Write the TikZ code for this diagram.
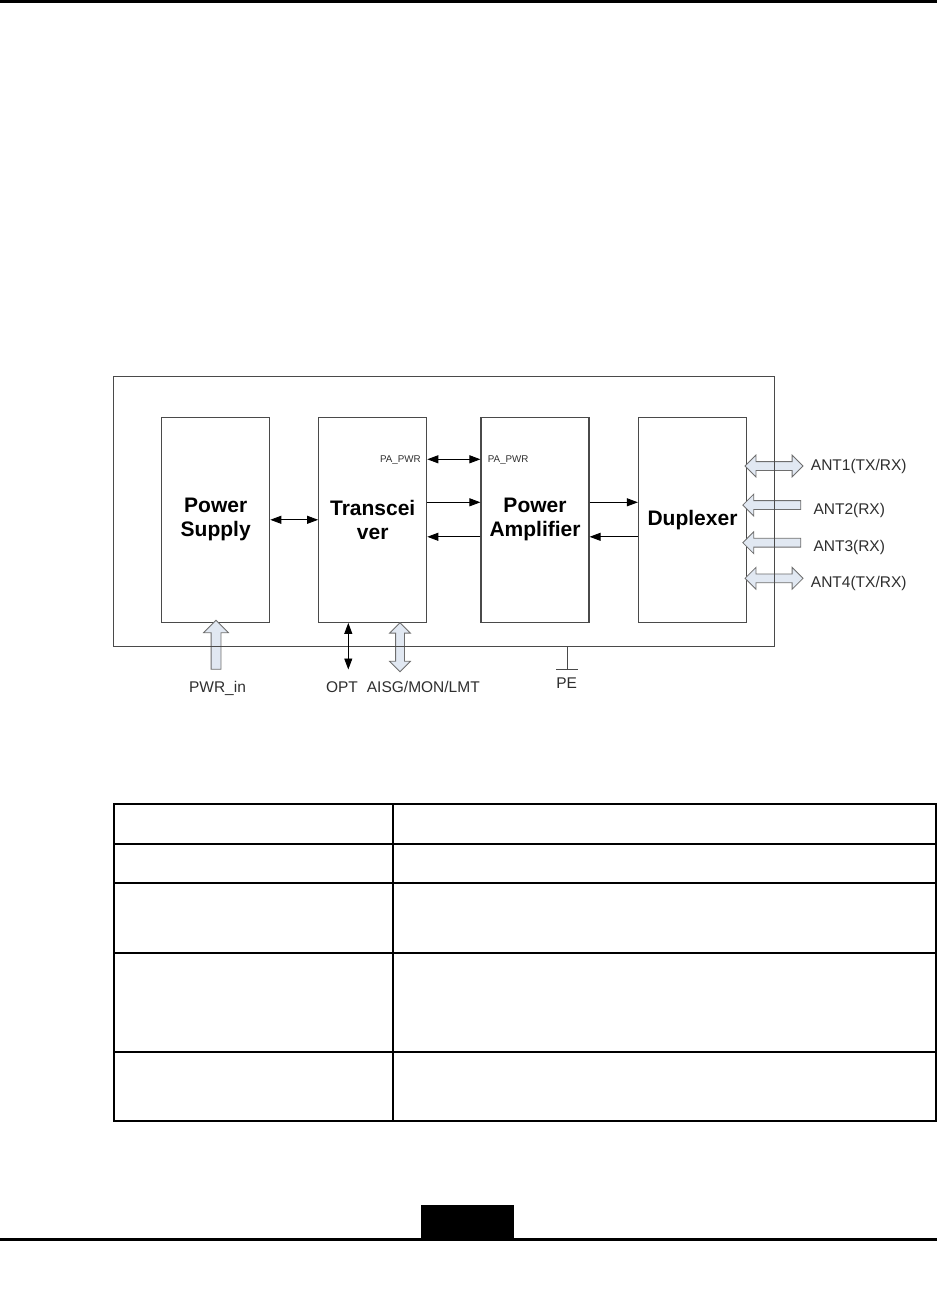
\documentclass[tikz,border=0pt]{standalone}
\usepackage{fontspec}
\setmainfont{Liberation Sans}
\usetikzlibrary{positioning,arrows.meta,calc,shapes.arrows}
\definecolor{rruline}{HTML}{4A4A4A}
\definecolor{rrutext}{HTML}{2E2E2E}
\definecolor{rrufill}{HTML}{E1E8F2}
\definecolor{rruedge}{HTML}{6E6E6E}

\begin{document}
\begin{tikzpicture}[x=1pt, y=-1pt,
  module/.style={draw=rruline, line width=1.2pt, minimum width=108, minimum height=205,
                 inner sep=0, align=center, font=\fontsize{21}{24}\selectfont\bfseries},
  arr/.style={-{Triangle[length=11pt,width=8pt]}, line width=0.9pt, draw=black},
  dbl/.style={{Triangle[length=11pt,width=8pt]}-{Triangle[length=11pt,width=8pt]},
              line width=0.9pt, draw=black},
  blk/.style={single arrow, draw=rruedge, fill=rrufill, line width=0.8pt,
              inner xsep=0, inner ysep=4pt, single arrow head extend=6.5pt, minimum height=58},
  dblk/.style={double arrow, draw=rruedge, fill=rrufill, line width=0.8pt,
               inner xsep=0, inner ysep=4pt, double arrow head extend=6.5pt, minimum height=58},
  lbl/.style={font=\fontsize{15.5}{18}\selectfont, text=rrutext, inner sep=0},
  pin/.style={font=\fontsize{9.8}{11}\selectfont, text=rrutext, inner sep=0},
  rule/.style={fill=black, draw=none},
  tbl/.style={draw=black, line width=2pt},
]
  \useasboundingbox (0,0) rectangle (937,1289);

  % page rules
  \fill[rule] (0,0) rectangle (937,3);
  \fill[rule] (0,1238) rectangle (937,1241);
  \fill[rule] (421,1205) rectangle (514,1238);

  % modules
  \node[module] (ps)  at (215.7,519.8) {Power\\Supply};
  \node[module] (tr)  at (372.7,519.8) {Transcei\\ver};
  \node[module] (pa)  at (535,519.8)   {Power\\Amplifier};
  \node[module] (dup) at (692.5,519.8) {Duplexer};

  % block arrows
  \node[dblk] (ant1) at (774,466) {};
  \node[blk, shape border rotate=180] (ant2) at (774,505) {};
  \node[blk, shape border rotate=180] (ant3) at (774,542.7) {};
  \node[dblk] (ant4) at (774,578.3) {};
  \node[blk, inner xsep=4.5pt, inner ysep=0, single arrow head extend=7.5pt,
        minimum height=49, shape border rotate=90] (pwr) at (216,647.2) {};
  \node[dblk, inner xsep=4pt, inner ysep=0, double arrow head extend=6pt,
        minimum height=49, shape border rotate=90] (aisg) at (400,647.2) {};

  % unit frame
  \node[draw=rruline, line width=1.2pt, minimum width=661, minimum height=270,
        inner sep=0] (unit) at (443.7,511.7) {};

  % signal lines
  \draw[dbl] (ps) -- (tr);
  \draw[dbl] ([yshift=60.5pt]tr.east) -- ([yshift=60.5pt]pa.west);
  \draw[arr] ([yshift=17.5pt]tr.east) -- ([yshift=17.5pt]pa.west);
  \draw[arr] ([yshift=-17pt]pa.west) -- ([yshift=-17pt]tr.east);
  \draw[arr] ([yshift=17.5pt]pa.east) -- ([yshift=17.5pt]dup.west);
  \draw[arr] ([yshift=-17pt]dup.west) -- ([yshift=-17pt]pa.east);
  \coordinate (opt) at (348.3,669.5);
  \draw[dbl] (opt |- tr.south) -- (opt);

  % earth
  \coordinate (pe) at (567,669.5);
  \draw[rruline, line width=1pt] (pe |- unit.south) -- (pe);
  \draw[rruline, line width=1pt] ([xshift=-11pt]pe) -- ([xshift=11pt]pe);

  % labels
  \node[pin, anchor=base east] at (421,462.5) {PA\_PWR};
  \node[pin, anchor=base west] at (487.7,462.5) {PA\_PWR};
  \node[lbl, anchor=base west] at (810.7,470) {ANT1(TX/RX)};
  \node[lbl, anchor=base west] at (813.3,514) {ANT2(RX)};
  \node[lbl, anchor=base west] at (813.3,551) {ANT3(RX)};
  \node[lbl, anchor=base west] at (810.7,587.7) {ANT4(TX/RX)};
  \node[lbl, anchor=base] at (217.5,692) {PWR\_in};
  \node[lbl, anchor=base] at (342,692) {OPT};
  \node[lbl, anchor=base] at (423.3,692) {AISG/MON/LMT};
  \node[lbl, anchor=base] at (566.7,688.3) {PE};

  % table
  \draw[tbl] (114,804) rectangle (936,1121);
  \draw[tbl] (393,804) -- (393,1121);
  \foreach \ry in {844,883,953,1052}
    \draw[tbl] (114,\ry) -- (936,\ry);
\end{tikzpicture}
\end{document}
